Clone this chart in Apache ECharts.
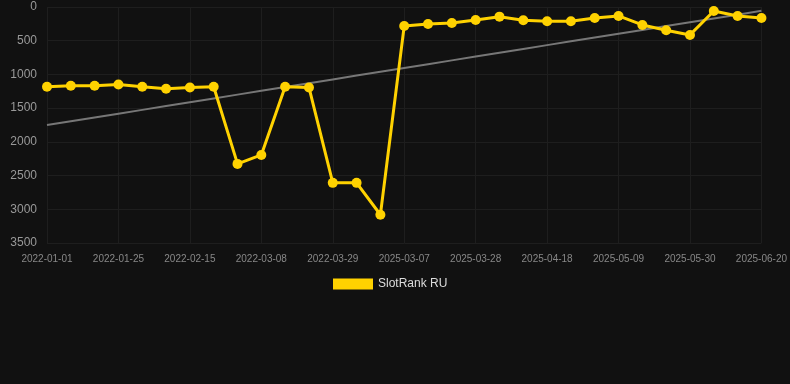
<!DOCTYPE html>
<html>
<head>
<meta charset="utf-8">
<script src="https://cdn.jsdelivr.net/npm/echarts@6/dist/echarts.min.js"></script>
<style>
  html, body { margin: 0; padding: 0; background: #111111; }
  #chart { width: 790px; height: 384px; }
</style>
</head>
<body>
<div id="chart"></div>
<script>
// categories (weekly snapshots)
const dates = [
    '2022-01-01', '2022-01-11', '2022-01-18', '2022-01-25', '2022-02-01', '2022-02-08',
    '2022-02-15', '2022-02-22', '2022-03-01', '2022-03-08', '2022-03-15', '2022-03-22',
    '2022-03-29', '2022-04-05', '2025-02-28', '2025-03-07', '2025-03-14', '2025-03-21',
    '2025-03-28', '2025-04-04', '2025-04-11', '2025-04-18', '2025-04-25', '2025-05-02',
    '2025-05-09', '2025-05-16', '2025-05-23', '2025-05-30', '2025-06-06', '2025-06-13',
    '2025-06-20'
];

// rank values
const slotRankRU = [
    1183, 1168, 1168, 1149, 1183, 1213, 1193, 1183, 2327, 2194, 1183, 1193,
    2608, 2608, 3081, 281, 251, 237, 192, 143, 197, 212, 212, 163,
    133, 266, 345, 414, 59, 133, 163
];

const yTicks = { min: 0, max: 3500, interval: 500 };

// 线性回归趋势线
function linearTrend(values) {
    const n = values.length;
    const meanX = (n - 1) / 2;
    const meanY = values.reduce((a, b) => a + b, 0) / n;
    let num = 0, den = 0;
    values.forEach((v, i) => {
        num += (i - meanX) * (v - meanY);
        den += (i - meanX) * (i - meanX);
    });
    const slope = num / den;
    return values.map((v, i) => +(meanY + slope * (i - meanX)).toFixed(1));
}

const trend = linearTrend(slotRankRU);

const chart = echarts.init(document.getElementById('chart'), null, { renderer: 'canvas' });

chart.setOption({
    backgroundColor: '#111111',
    animation: false,
    grid: { left: 47, right: 28, top: 7, bottom: 141 },
    legend: {
        data: ['SlotRank RU'],
        top: 273,
        left: 328,
        icon: 'rect',
        itemWidth: 40,
        itemHeight: 11,
        itemGap: 10,
        textStyle: { color: '#dddddd', fontSize: 12, fontFamily: 'Arial, Liberation Sans, sans-serif' }
    },
    xAxis: {
        type: 'category',
        data: dates,
        boundaryGap: false,
        axisLine: { show: false },
        axisTick: { show: false },
        axisLabel: {
            interval: 2,
            color: '#888888',
            fontSize: 10,
            margin: 11,
            fontFamily: 'Arial, Liberation Sans, sans-serif'
        },
        splitLine: { show: true, interval: 2, lineStyle: { color: '#1e1e1e', width: 1 } }
    },
    yAxis: {
        type: 'value',
        inverse: true,
        min: yTicks.min,
        max: yTicks.max,
        interval: yTicks.interval,
        axisLine: { show: false },
        axisTick: { show: false },
        axisLabel: {
            color: '#999999',
            fontSize: 12,
            margin: 10,
            formatter: (v) => String(v),
            fontFamily: 'Arial, Liberation Sans, sans-serif'
        },
        splitLine: { lineStyle: { color: '#1e1e1e', width: 1 } }
    },
    series: [
        {
            name: 'Trend',
            type: 'line',
            data: trend,
            symbol: 'none',
            silent: true,
            lineStyle: { color: '#777777', width: 2 },
            z: 1
        },
        {
            name: 'SlotRank RU',
            type: 'line',
            data: slotRankRU,
            symbol: 'circle',
            symbolSize: 10,
            itemStyle: { color: '#ffd200' },
            lineStyle: { color: '#ffd200', width: 3 },
            z: 2
        }
    ]
});
</script>
</body>
</html>
